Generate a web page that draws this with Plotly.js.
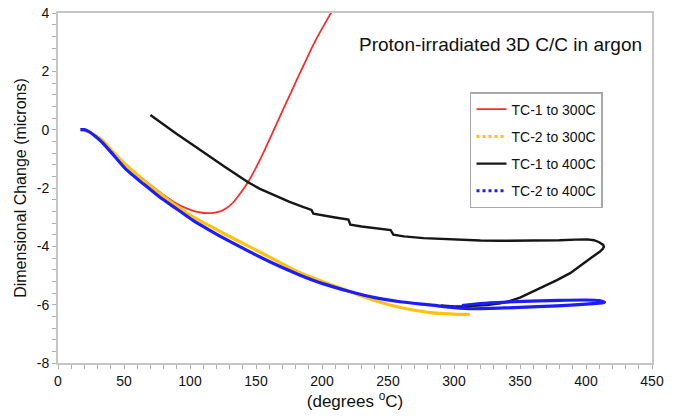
<!DOCTYPE html>
<html>
<head>
<meta charset="utf-8">
<script src="https://cdn.plot.ly/plotly-3.0.1.min.js"></script>
<style>
  html, body { margin: 0; padding: 0; background: #fff; }
  #chart { width: 674px; height: 416px; }
</style>
</head>
<body>
<div id="chart"></div>
<script>
// ---- Data ----
const seriesNames = ["TC-1 to 300C", "TC-2 to 300C", "TC-1 to 400C", "TC-2 to 400C"];

const tc1_300_x = [17, 22, 28, 34, 42, 50, 60, 70, 80, 90, 97, 103, 108, 113, 118, 123, 128, 133, 137, 141, 145, 150, 156, 162, 168, 174, 180, 186, 192, 198, 204, 210];
const tc1_300_y = [0, -0.05, -0.19, -0.38, -0.77, -1.14, -1.53, -1.9, -2.24, -2.54, -2.69, -2.79, -2.84, -2.86, -2.85, -2.8, -2.68, -2.48, -2.25, -2.0, -1.72, -1.3, -0.75, -0.16, 0.44, 1.03, 1.62, 2.2, 2.78, 3.3, 3.78, 4.25];

const tc2_300_x = [17, 22, 28, 34, 42, 50, 60, 70, 80, 90, 102, 115, 128, 145, 165, 183, 200, 214, 230, 246, 258, 270, 282, 292, 302, 312];
const tc2_300_y = [0, -0.05, -0.19, -0.38, -0.78, -1.15, -1.55, -1.93, -2.28, -2.62, -2.98, -3.3, -3.62, -4.01, -4.48, -4.9, -5.2, -5.43, -5.7, -5.94, -6.08, -6.19, -6.27, -6.31, -6.33, -6.33];

const tc1_400_x = [70, 80, 90, 102, 114, 126, 138, 144, 153, 163, 175, 185, 192, 193.5, 200, 210, 220, 221.5, 230, 240, 252, 254, 262, 277, 290, 305, 320, 335, 350, 365, 380, 392, 401, 406, 410, 413, 413.6, 412.5, 410.6, 405, 400, 394, 388, 378, 367, 358, 350, 342, 335, 325, 312, 300, 290];
const tc1_400_y = [0.5, 0.17, -0.15, -0.52, -0.9, -1.26, -1.62, -1.8, -2.03, -2.24, -2.47, -2.64, -2.75, -2.88, -2.94, -3.01, -3.08, -3.26, -3.32, -3.37, -3.44, -3.6, -3.66, -3.72, -3.75, -3.78, -3.8, -3.81, -3.81, -3.8, -3.79, -3.77, -3.76, -3.79, -3.86, -3.95, -4.02, -4.1, -4.18, -4.36, -4.53, -4.73, -4.92, -5.16, -5.39, -5.6, -5.76, -5.88, -5.95, -6.01, -6.05, -6.06, -6.03];

const tc2_400_x = [17, 20, 24, 28, 34, 43, 52, 65, 77, 90, 102, 115, 128, 145, 160, 183, 200, 221, 240, 259, 282, 300, 314, 340, 378, 400, 410, 414, 410, 400, 380, 365, 340, 320, 306];
const tc2_400_y = [0, 0, -0.08, -0.22, -0.46, -0.92, -1.38, -1.87, -2.31, -2.72, -3.1, -3.45, -3.78, -4.18, -4.52, -4.98, -5.27, -5.55, -5.76, -5.9, -6.01, -6.1, -6.14, -6.11, -6.04, -5.98, -5.95, -5.92, -5.86, -5.84, -5.85, -5.87, -5.91, -5.96, -6.03];

const xTickVals = [0, 50, 100, 150, 200, 250, 300, 350, 400, 450];
const xTickText = ["0", "50", "100", "150", "200", "250", "300", "350", "400", "450"];
const yTickVals = [4, 2, 0, -2, -4, -6, -8];
const yTickText = ["4", "2", "0", "-2", "-4", "-6", "-8"];

const chartTitle = "Proton-irradiated 3D C/C in argon";
const xTitle = "(degrees <sup>o</sup>C)";
const yTitle = "Dimensional Change (microns)";

// ---- Styles ----
const colRed = "#ff2b2b", colOrange = "#ffc20e", colBlack = "#161616", colBlue = "#1c1cff";
const axisCol = "#c6c6c6";

const traces = [
  { x: tc1_300_x, y: tc1_300_y, type: "scatter", mode: "lines", name: seriesNames[0],
    line: { color: colRed, width: 1.8, shape: "spline", smoothing: 0.6 }, legendgroup: "g1", legendrank: 1 },
  { x: tc2_300_x, y: tc2_300_y, type: "scatter", mode: "lines", name: seriesNames[1],
    line: { color: colOrange, width: 3.2, shape: "spline", smoothing: 0.6 }, showlegend: false, legendgroup: "g2" },
  { x: tc1_400_x, y: tc1_400_y, type: "scatter", mode: "lines", name: seriesNames[2],
    line: { color: colBlack, width: 2.4 }, legendgroup: "g3", legendrank: 3 },
  { x: tc2_400_x, y: tc2_400_y, type: "scatter", mode: "lines", name: seriesNames[3],
    line: { color: colBlue, width: 3.2, shape: "spline", smoothing: 0.6 }, showlegend: false, legendgroup: "g4" },
  // legend entries with dotted samples for the TC-2 series
  { x: [null], y: [null], type: "scatter", mode: "lines", name: seriesNames[1],
    line: { color: colOrange, width: 3, dash: "dot" }, legendgroup: "g2", legendrank: 2 },
  { x: [null], y: [null], type: "scatter", mode: "lines", name: seriesNames[3],
    line: { color: colBlue, width: 3, dash: "dot" }, legendgroup: "g4", legendrank: 4 }
];

const layout = {
  width: 674, height: 416,
  margin: { l: 58, r: 22, t: 13, b: 53, pad: 0 },
  paper_bgcolor: "#ffffff", plot_bgcolor: "#ffffff",
  font: { family: "Liberation Sans, Arial, Helvetica, sans-serif", color: "#111111", size: 14 },
  showlegend: true,
  xaxis: {
    range: [0, 450], tickmode: "array", tickvals: xTickVals, ticktext: xTickText,
    showline: true, mirror: true, linecolor: axisCol, linewidth: 2,
    ticks: "outside", ticklen: 4, tickwidth: 1, tickcolor: "#b0b0b0",
    minor: { dtick: 10, tick0: 0, ticks: "outside", ticklen: 4, tickwidth: 1, tickcolor: "#b0b0b0", showgrid: false },
    showgrid: false, zeroline: false, tickfont: { size: 14, color: "#111" },
    title: { text: xTitle, font: { size: 17, color: "#111" }, standoff: 4 }
  },
  yaxis: {
    range: [-8, 4], tickmode: "array", tickvals: yTickVals, ticktext: yTickText,
    showline: true, mirror: true, linecolor: axisCol, linewidth: 2,
    ticks: "outside", ticklen: 4, tickwidth: 1, tickcolor: "#b0b0b0",
    minor: { dtick: 0.4, tick0: 0, ticks: "outside", ticklen: 4, tickwidth: 1, tickcolor: "#b0b0b0", showgrid: false },
    showgrid: false, zeroline: false, tickfont: { size: 14, color: "#111" },
    title: { text: yTitle, font: { size: 16, color: "#111" }, standoff: 6 }
  },
  legend: {
    x: 0.6936, y: 0.774, xanchor: "left", yanchor: "top",
    bgcolor: "#ffffff", bordercolor: "#a8a8a8", borderwidth: 1.5,
    font: { size: 14, color: "#111" }, tracegroupgap: 6, itemwidth: 30,
    traceorder: "grouped"
  },
  annotations: [
    { text: chartTitle, xref: "paper", yref: "paper", x: 0.503, y: 0.911,
      xanchor: "left", yanchor: "middle", showarrow: false,
      font: { size: 19, color: "#111" } }
  ]
};

Plotly.newPlot("chart", traces, layout, { displayModeBar: false, staticPlot: true });
</script>
</body>
</html>
